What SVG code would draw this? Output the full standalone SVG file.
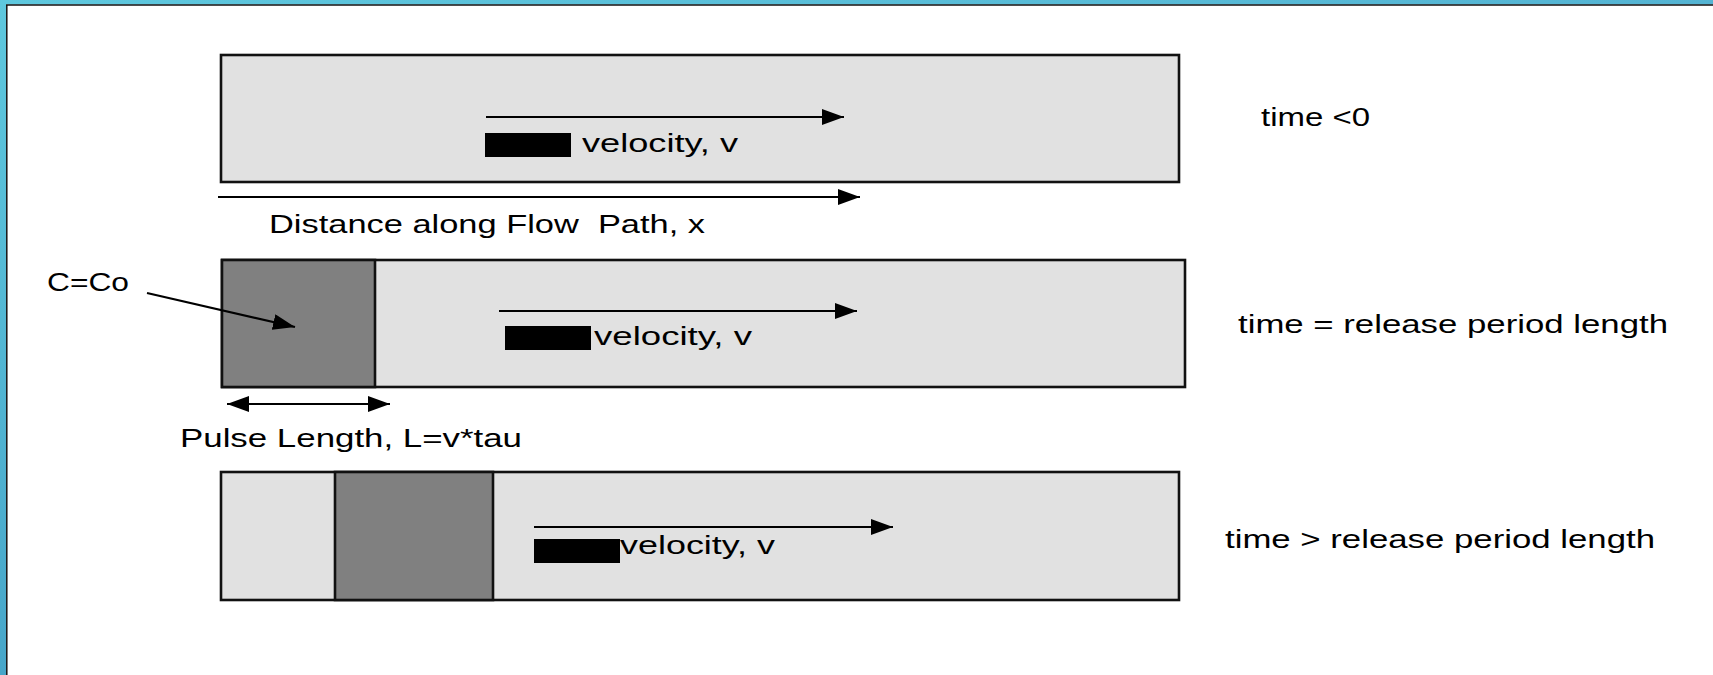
<svg xmlns="http://www.w3.org/2000/svg" width="1713" height="675" viewBox="0 0 1713 675">
<style>
.box{fill:#e1e1e1;stroke:#111;stroke-width:2.6}
.pulse{fill:#808080;stroke:#111;stroke-width:2.6}
.ln{stroke:#000;stroke-width:2.2;fill:none}
.lbl{font-family:"Liberation Sans",Arial,sans-serif;font-size:26px;fill:#000;white-space:pre}
.blk{fill:#000}
</style>
<defs>
<linearGradient id="cy" x1="0" y1="0" x2="0" y2="1">
<stop offset="0" stop-color="#5ec8de"/>
<stop offset="1" stop-color="#47a6c9"/>
</linearGradient>
<linearGradient id="cyt" x1="0" y1="0" x2="1" y2="0">
<stop offset="0" stop-color="#5ec8de"/>
<stop offset="1" stop-color="#54b4d3"/>
</linearGradient>
<marker id="ah" markerWidth="22" markerHeight="16" refX="22" refY="8" orient="auto" markerUnits="userSpaceOnUse">
<path d="M0,0 L22,8 L0,16 Z" fill="#000"/>
</marker>
<marker id="ahs" markerWidth="22" markerHeight="16" refX="0" refY="8" orient="auto" markerUnits="userSpaceOnUse">
<path d="M22,0 L0,8 L22,16 Z" fill="#000"/>
</marker>
</defs>
<rect x="0" y="0" width="1713" height="675" fill="#fff"/>
<g id="frame">
<rect x="0" y="0" width="1713" height="4.5" fill="url(#cyt)"/>
<rect x="0" y="0" width="6" height="675" fill="url(#cy)"/>
<line x1="6" y1="5" x2="1713" y2="5" stroke="#111" stroke-width="1.5"/>
<line x1="6.8" y1="5" x2="6.8" y2="675" stroke="#111" stroke-width="1.5"/>
</g>
<g id="box1">
<rect class="box" x="221" y="55" width="958" height="127"/>
<rect class="blk" x="485" y="133" width="86" height="24"/>
<text class="lbl" x="582" y="152" textLength="156" lengthAdjust="spacingAndGlyphs">velocity, v</text>
</g>
<g id="box2">
<rect class="box" x="222" y="260" width="963" height="127"/>
<rect class="pulse" x="222" y="260" width="153" height="127"/>
<rect class="blk" x="505" y="326" width="86" height="24"/>
<text class="lbl" x="594" y="345" textLength="158" lengthAdjust="spacingAndGlyphs">velocity, v</text>
</g>
<g id="box3">
<rect class="box" x="221" y="472" width="958" height="128"/>
<rect class="pulse" x="335" y="472" width="158" height="128"/>
<rect class="blk" x="534" y="539" width="86" height="24"/>
<text class="lbl" x="620" y="554" textLength="155" lengthAdjust="spacingAndGlyphs">velocity, v</text>
</g>
<g id="connectors">
<line class="ln" x1="486" y1="117" x2="844" y2="117" marker-end="url(#ah)"/>
<line class="ln" x1="218" y1="197" x2="860" y2="197" marker-end="url(#ah)"/>
<line class="ln" x1="499" y1="311" x2="857" y2="311" marker-end="url(#ah)"/>
<line class="ln" x1="534" y1="527" x2="893" y2="527" marker-end="url(#ah)"/>
<line class="ln" x1="147" y1="293" x2="295" y2="327" marker-end="url(#ah)"/>
<line class="ln" x1="227" y1="404" x2="390" y2="404" marker-start="url(#ahs)" marker-end="url(#ah)"/>
</g>
<g id="labels">
<text class="lbl" x="269" y="233" textLength="436" lengthAdjust="spacingAndGlyphs" xml:space="preserve">Distance along Flow  Path, x</text>
<text class="lbl" x="47" y="291" textLength="82" lengthAdjust="spacingAndGlyphs">C=Co</text>
<text class="lbl" x="180" y="447" textLength="342" lengthAdjust="spacingAndGlyphs">Pulse Length, L=v*tau</text>
<text class="lbl" x="1261" y="126" textLength="109" lengthAdjust="spacingAndGlyphs">time &lt;0</text>
<text class="lbl" x="1238" y="333" textLength="430" lengthAdjust="spacingAndGlyphs">time = release period length</text>
<text class="lbl" x="1225" y="548" textLength="430" lengthAdjust="spacingAndGlyphs">time &gt; release period length</text>
</g>
</svg>
